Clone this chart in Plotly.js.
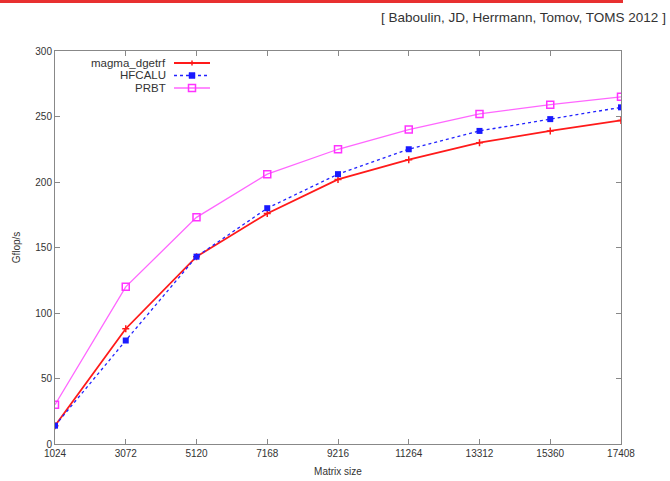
<!DOCTYPE html>
<html>
<head>
<meta charset="utf-8">
<script src="https://cdn.plot.ly/plotly-3.0.1.min.js"></script>
<style>html,body{margin:0;padding:0;background:#fff;}#chart{width:670px;height:481px;}</style>
</head>
<body>
<div id="chart"></div>
<script>
const matrixSizes = [1024, 3072, 5120, 7168, 9216, 11264, 13312, 15360, 17408];
const magmaDgetrf = [14, 88, 143, 176, 202, 217, 230, 239, 247];
const hfcalu = [14, 79, 143, 180, 206, 225, 239, 248, 257];
const prbt = [30, 120, 173, 206, 225, 240, 252, 259, 265];
const tickLabels = matrixSizes.map(String);
const seriesNames = ["magma_dgetrf", "HFCALU", "PRBT"];
const citation = "[ Baboulin, JD, Herrmann, Tomov, TOMS 2012 ]";

const red = "#ff1a1a", blue = "#1a1aff", pink = "#ff66ff", pinkMk = "#ff33ff";

const traces = [
  {x: matrixSizes, y: magmaDgetrf, name: seriesNames[0], type: "scatter", mode: "lines+markers",
   line: {color: red, width: 1.8},
   marker: {symbol: "cross-thin", size: 5, color: red, line: {color: red, width: 1.5}}},
  {x: matrixSizes, y: hfcalu, name: seriesNames[1], type: "scatter", mode: "lines+markers",
   line: {color: "#2222ff", width: 1.3, dash: "dot"},
   marker: {symbol: "square", size: 6, color: blue}},
  {x: matrixSizes, y: prbt, name: seriesNames[2], type: "scatter", mode: "lines+markers",
   line: {color: pink, width: 1.3},
   marker: {symbol: "square-open", size: 7, color: pinkMk, line: {color: pinkMk, width: 1.5}}}
];

const axisCommon = {
  showline: true, mirror: "ticks", linecolor: "#888", linewidth: 1,
  ticks: "inside", ticklen: 5, tickcolor: "#888", showgrid: false, zeroline: false,
  tickfont: {family: "Liberation Sans, Arial, sans-serif", size: 10, color: "#333"}
};

// plot-area pixel helpers for the custom (gnuplot-style) legend
const L = 55, R = 49, T = 51, B = 37, W = 670, H = 481;
const pw = W - L - R, ph = H - T - B;
const px = v => (v - L) / pw;
const py = v => (H - B - v) / ph;

const legendRows = [63, 75.5, 88];
const annotations = [
  {text: citation, xref: "paper", yref: "paper", x: px(668), y: py(17), xanchor: "right", yanchor: "middle",
   showarrow: false, font: {family: "Liberation Sans, Arial, sans-serif", size: 13.5, color: "#333"}}
];
const shapes = [
  {type: "line", xref: "paper", yref: "paper", x0: px(0), x1: px(623), y0: py(1.5), y1: py(1.5),
   line: {color: "#e83030", width: 3}}
];
legendRows.forEach((yy, i) => {
  annotations.push({text: seriesNames[i], xref: "paper", yref: "paper", x: px(168), y: py(yy),
    xanchor: "right", yanchor: "middle", showarrow: false,
    font: {family: "Liberation Sans, Arial, sans-serif", size: 11.5, color: "#333"}});
  const tr = traces[i];
  shapes.push({type: "line", xref: "paper", yref: "paper", x0: px(174), x1: px(210), y0: py(yy), y1: py(yy),
    line: {color: tr.line.color, width: tr.line.width, dash: tr.line.dash || "solid"}});
});
// legend markers
const mx = 192;
shapes.push({type: "line", xref: "paper", yref: "paper", x0: px(mx - 2.5), x1: px(mx + 2.5), y0: py(legendRows[0]), y1: py(legendRows[0]), line: {color: red, width: 1.5}});
shapes.push({type: "line", xref: "paper", yref: "paper", x0: px(mx), x1: px(mx), y0: py(legendRows[0] - 2.5), y1: py(legendRows[0] + 2.5), line: {color: red, width: 1.5}});
shapes.push({type: "rect", xref: "paper", yref: "paper", x0: px(mx - 3), x1: px(mx + 3), y0: py(legendRows[1] - 3), y1: py(legendRows[1] + 3), fillcolor: blue, line: {color: blue, width: 0.5}});
shapes.push({type: "rect", xref: "paper", yref: "paper", x0: px(mx - 3.5), x1: px(mx + 3.5), y0: py(legendRows[2] - 3.5), y1: py(legendRows[2] + 3.5), fillcolor: "rgba(0,0,0,0)", line: {color: pinkMk, width: 1.5}});

const layout = {
  width: W, height: H,
  margin: {l: L, r: R, t: T, b: B},
  paper_bgcolor: "#fff", plot_bgcolor: "#fff",
  font: {family: "Liberation Sans, Arial, sans-serif", color: "#333"},
  showlegend: false,
  xaxis: Object.assign({}, axisCommon, {
    range: [1024, 17408], tickvals: matrixSizes, ticktext: tickLabels,
    title: {text: "Matrix size", font: {size: 10, color: "#333"}, standoff: 9}
  }),
  yaxis: Object.assign({}, axisCommon, {
    range: [0, 300], dtick: 50, tick0: 0,
    title: {text: "Gflop/s", font: {size: 10, color: "#333"}, standoff: 12}
  }),
  annotations: annotations,
  shapes: shapes
};

Plotly.newPlot("chart", traces, layout, {displayModeBar: false, staticPlot: true});
</script>
</body>
</html>
